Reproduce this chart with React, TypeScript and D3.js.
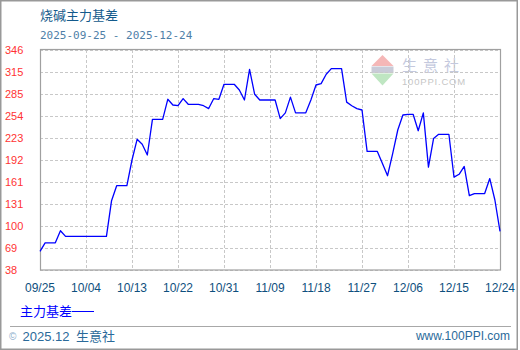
import React from "react";
import * as d3 from "d3";

const title = "烧碱主力基差";
const subtitle = "2025-09-25 - 2025-12-24";
const seriesName = "主力基差";
const startDate = "2025-09-25";
const endDate = "2025-12-24";

// daily basis values, 2025-09-25 .. 2025-12-24
const basisValues = [
  64, 76, 76, 76, 93, 85, 85, 85, 85, 85, 85, 85, 85, 85, 135, 156, 156, 156, 192, 221,
  214, 199, 249, 249, 249, 277, 269, 268, 278, 270, 270, 270, 268, 264, 278, 277, 298, 298, 298, 290,
  276, 319, 284, 276, 276, 276, 276, 250, 258, 280, 258, 258, 258, 276, 297, 299, 312, 320, 320, 320,
  273, 268, 264, 262, 204, 204, 204, 187, 170, 201, 234, 255, 256, 256, 233, 258, 182, 222, 228, 228,
  228, 168, 172, 183, 142, 145, 145, 145, 166, 136, 92,
];

const xTickLabels = ["09/25", "10/04", "10/13", "10/22", "10/31", "11/09", "11/18", "11/27", "12/06", "12/15", "12/24"];
const yTickLabels = ["38", "69", "100", "131", "161", "192", "223", "254", "285", "315", "346"];
const yMin = 38;
const yMax = 346;

export default function App() {
  const left = 40, right = 500, top = 50, bottom = 270;
  const parse = d3.timeParse("%Y-%m-%d");
  const d0 = parse(startDate) as Date;
  const d1 = parse(endDate) as Date;
  const x = d3.scaleTime().domain([d0, d1]).range([left, right]);
  const y = d3.scaleLinear().domain([yMin, yMax]).range([bottom, top]);

  const points = basisValues.map((v, i) => ({ date: d3.timeDay.offset(d0, i), v }));
  const line = d3
    .line<{ date: Date; v: number }>()
    .x((d) => x(d.date))
    .y((d) => y(d.v));

  const xTicks = xTickLabels.map((lab, i) => ({ lab, date: d3.timeDay.offset(d0, i * 9) }));
  const step = (yMax - yMin) / (yTickLabels.length - 1);
  const yTicks = yTickLabels.map((lab, i) => ({ lab, v: yMin + i * step }));

  const grid = "#c8c8c8";
  const frame = "#a0a0a0";
  const teal = "#135a8c";

  return (
    <svg
      width={520}
      height={350}
      style={{ position: "absolute", left: 0, top: 0, background: "#fff" }}
      fontFamily="'Liberation Sans', Arial, sans-serif"
    >
      <rect x={0} y={0} width={520} height={350} fill="#fff" />
      <rect x={0.75} y={0.75} width={516.5} height={348.5} fill="none" stroke="#999" strokeWidth={1.5} />

      <text x={40} y={20} fontSize={13} fill={teal} fontFamily="'Noto Sans CJK SC', sans-serif">
        {title}
      </text>
      <text x={40} y={39} fontSize={11} fill="#4f7fa8" fontFamily="'DejaVu Sans Mono', monospace">
        {subtitle}
      </text>

      {/* watermark */}
      <g>
        <polygon points="382.5,55 371.5,66 393.5,66" fill="#f5b7b7" />
        <rect x={371.5} y={66.5} width={22} height={6.5} fill="#c9cbd8" />
        <polygon points="371.5,73.5 393.5,73.5 382.5,85.5" fill="#bfe6c2" />
        <text x={402} y={71} fontSize={15} fill="#c4c9de" letterSpacing={6} fontFamily="'Noto Sans CJK SC', sans-serif">
          生意社
        </text>
        <text x={402} y={85} fontSize={9.5} fill="#c6c6c6" letterSpacing={0.8}>
          100PPI.COM
        </text>
      </g>

      {/* grid */}
      {yTicks.map((t) => (
        <line
          key={"gy" + t.lab}
          x1={left}
          x2={right}
          y1={Math.round(y(t.v)) + 0.5}
          y2={Math.round(y(t.v)) + 0.5}
          stroke={grid}
          strokeDasharray="3,2"
        />
      ))}
      {xTicks.map((t) => (
        <line
          key={"gx" + t.lab}
          x1={Math.round(x(t.date)) + 0.5}
          x2={Math.round(x(t.date)) + 0.5}
          y1={top}
          y2={bottom}
          stroke={grid}
          strokeDasharray="3,2"
        />
      ))}
      <rect x={left + 0.5} y={top - 0.5} width={right - left} height={bottom - top + 0.5} fill="none" stroke={frame} strokeWidth={1.2} />

      {/* y labels */}
      {yTicks.map((t) => (
        <text key={"yl" + t.lab} x={5} y={y(t.v) + 4} fontSize={11} fill="#ff3333">
          {t.lab}
        </text>
      ))}
      {/* x labels */}
      {xTicks.map((t) => (
        <text key={"xl" + t.lab} x={x(t.date)} y={292} fontSize={12} fill="#0e4f7e" textAnchor="middle">
          {t.lab}
        </text>
      ))}

      <path d={line(points) || ""} fill="none" stroke="#0000ff" strokeWidth={1.3} strokeLinejoin="round" />

      {/* legend */}
      <text x={20} y={316} fontSize={13} fill="#0000ff" fontFamily="'Noto Sans CJK SC', sans-serif">
        {seriesName}
      </text>
      <line x1={72} x2={94} y1={311.5} y2={311.5} stroke="#0000ff" strokeWidth={1} />

      {/* footer */}
      <line x1={10} x2={511} y1={326.5} y2={326.5} stroke="#a8a8a8" strokeWidth={1} />
      <text x={9} y={340} fontSize={10} fill="#8aaccb">
        ©
      </text>
      <text x={22.5} y={340.5} fontSize={13} fill="#2a6a9a">
        2025.12
      </text>
      <text x={76} y={340.5} fontSize={13} fill="#2a6a9a" fontFamily="'Noto Sans CJK SC', sans-serif">
        生意社
      </text>
      <text x={510} y={340} fontSize={12} fill="#2a6a9a" textAnchor="end">
        www.100PPI.com
      </text>
    </svg>
  );
}
